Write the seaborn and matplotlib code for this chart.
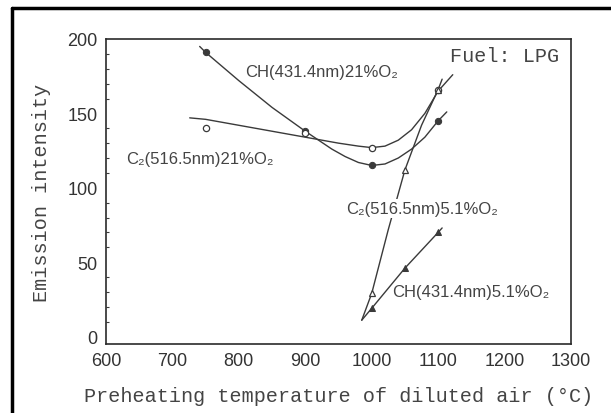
import matplotlib
matplotlib.use("Agg")
import matplotlib.pyplot as plt
from matplotlib.lines import Line2D
from matplotlib.ticker import MultipleLocator
import seaborn as sns

# marker values
temps = [750, 900, 1000, 1100]
ch_21 = [191, 138, 115, 145]
c2_21 = [140, 137, 127, 166]

temps_51 = [1000, 1050, 1100]
c2_51 = [29, 112, 166]
ch_51 = [19, 46, 70]

# hand-drawn fit curves
ch_21_curve_x = [741, 750, 800, 850, 900, 920, 940, 960, 980, 1000, 1020, 1040,
                 1060, 1080, 1100, 1113]
ch_21_curve_y = [195, 191, 172, 154, 138, 132, 126, 121, 117, 115, 116, 120,
                 126, 134, 145, 151]
c2_21_curve_x = [726, 750, 800, 850, 900, 950, 980, 1000, 1020, 1040, 1060, 1080,
                 1100, 1122]
c2_21_curve_y = [147, 146, 142, 138, 134, 130, 128, 127, 128, 132, 139, 150,
                 165, 176]
c2_51_curve_x = [985, 1000, 1025, 1050, 1075, 1100, 1106]
c2_51_curve_y = [11, 29, 72, 112, 142, 166, 173]
ch_51_curve_x = [985, 1000, 1050, 1100, 1106]
ch_51_curve_y = [11, 19, 46, 70, 73]

x_ticks = [600, 700, 800, 900, 1000, 1100, 1200, 1300]
y_ticks = [0, 50, 100, 150, 200]

sns.set_theme(style="white")
mono = ["Liberation Mono", "DejaVu Sans Mono"]
sans = ["Liberation Sans", "DejaVu Sans"]
plt.rcParams["font.family"] = sans

ink = "#3a3a3a"

fig = plt.figure(figsize=(6.11, 4.14), dpi=100)
ax = fig.add_axes([106 / 611, 1 - 345 / 414, (571 - 106) / 611, (345 - 40) / 414])

# curves
for cx, cy in [(ch_21_curve_x, ch_21_curve_y), (c2_21_curve_x, c2_21_curve_y),
               (c2_51_curve_x, c2_51_curve_y), (ch_51_curve_x, ch_51_curve_y)]:
    sns.lineplot(x=cx, y=cy, ax=ax, color=ink, lw=1.0, sort=False, zorder=2)

# markers
sns.lineplot(x=temps, y=ch_21, ax=ax, color=ink, marker="o", linestyle="none",
             ms=4.5, mfc=ink, mec=ink, zorder=3)
sns.lineplot(x=temps, y=c2_21, ax=ax, color=ink, marker="o", linestyle="none",
             ms=4.5, mfc="white", mec=ink, mew=0.9, zorder=4)
sns.lineplot(x=temps_51, y=c2_51, ax=ax, color=ink, marker="^", linestyle="none",
             ms=4.5, mfc="white", mec=ink, mew=0.9, zorder=4)
sns.lineplot(x=temps_51, y=ch_51, ax=ax, color=ink, marker="^", linestyle="none",
             ms=4.5, mfc=ink, mec=ink, zorder=3)

# curve labels
lab_kw = dict(fontsize=12, color="#444444", family=sans, va="center", ha="left")
ax.text(810, 178, "CH(431.4nm)21%O₂", **lab_kw)
ax.text(630, 120, "C₂(516.5nm)21%O₂", **lab_kw)
ax.text(962, 86, "C₂(516.5nm)5.1%O₂", zorder=5,
        bbox=dict(boxstyle="square,pad=0.1", fc="white", ec="none"), **lab_kw)
ax.text(1030, 30, "CH(431.4nm)5.1%O₂", **lab_kw)
ax.text(1282, 189, "Fuel: LPG", fontsize=14.5, color="#444444", family=mono,
        va="center", ha="right")

ax.set_xlim(600, 1300)
ax.set_ylim(-5, 200)
ax.set_xticks(x_ticks)
ax.set_yticks(y_ticks)
ax.yaxis.set_minor_locator(MultipleLocator(10))
ax.tick_params(axis="both", which="major", direction="in", length=4, width=0.9,
               color=ink, labelsize=13, labelcolor="#333333", pad=6)
ax.tick_params(axis="y", which="minor", direction="in", length=2.5, width=0.8,
               color=ink, left=True)
for s in ax.spines.values():
    s.set_color("#2a2a2a")
    s.set_linewidth(1.2)
    s.set_visible(True)

ax.set_xlabel("Preheating temperature of diluted air (°C)", family=mono,
              fontsize=14.5, color="#444444", labelpad=12)
ax.set_ylabel("Emission intensity", family=mono, fontsize=14.5,
              color="#444444", labelpad=12)

# black frame of the scanned figure (left and top edges)
fig.add_artist(Line2D([12 / 611, 12 / 611], [0, 1 - 9 / 414],
                      transform=fig.transFigure, color="black", lw=2.5))
fig.add_artist(Line2D([12 / 611, 1], [1 - 9 / 414, 1 - 9 / 414],
                      transform=fig.transFigure, color="black", lw=2.5))

fig.savefig("out.png", dpi=100, facecolor="white")
